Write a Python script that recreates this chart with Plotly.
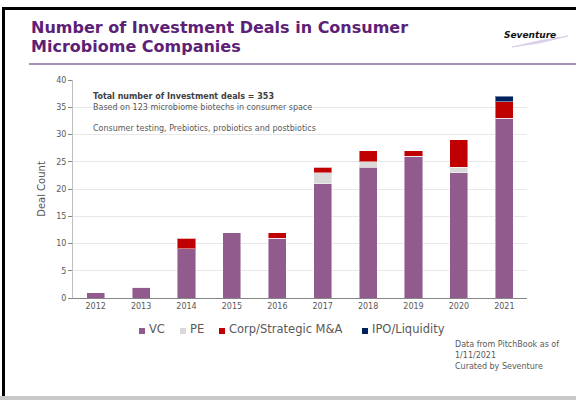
import plotly.graph_objects as go

years = ["2012", "2013", "2014", "2015", "2016", "2017", "2018", "2019", "2020", "2021"]
vc = [1, 2, 9, 12, 11, 21, 24, 26, 23, 33]
pe = [0, 0, 0, 0, 0, 2, 1, 0, 1, 0]
corp = [0, 0, 2, 0, 1, 1, 2, 1, 5, 3]
ipo = [0, 0, 0, 0, 0, 0, 0, 0, 0, 1]

series_names = ["VC", "PE", "Corp/Strategic M&A", "IPO/Liquidity"]
series_values = [vc, pe, corp, ipo]
series_colors = ["#915C8D", "#D9D9D9", "#C00000", "#002060"]

title_lines = ["Number of Investment Deals in Consumer", "Microbiome Companies"]
note_lines = ["Total number of Investment deals = 353",
              "Based on 123 microbiome biotechs in consumer space",
              "Consumer testing, Prebiotics, probiotics and postbiotics"]
source_lines = ["Data from PitchBook as of", "1/11/2021", "Curated by Seventure"]

FONT = "DejaVu Sans"
W, H = 576, 400


def px(x):
    return x / W


def py(y):
    return 1 - y / H


fig = go.Figure()
for name, vals, col in zip(series_names, series_values, series_colors):
    fig.add_trace(go.Bar(
        x=years, y=vals, name=name,
        marker=dict(color=col, line=dict(color="rgba(255,255,255,0.45)", width=1)),
    ))

fig.update_layout(
    width=W, height=H,
    margin=dict(l=0, r=0, t=0, b=0, autoexpand=False),
    paper_bgcolor="white", plot_bgcolor="white",
    barmode="stack", bargap=0.6,
    font=dict(family=FONT, color="#595959"),
    showlegend=False,
    xaxis=dict(domain=[px(73), px(527)], showline=True, linecolor="#868686", linewidth=1,
               ticks="", tickfont=dict(size=8, color="#595959"), showgrid=False,
               automargin=False),
    yaxis=dict(domain=[py(298), py(80)], range=[0, 40], dtick=5,
               showline=True, linecolor="#BFBFBF", linewidth=1,
               ticks="outside", ticklen=4, tickcolor="#868686",
               tickfont=dict(size=8, color="#595959"),
               showgrid=True, gridcolor="#E8E8E8", gridwidth=1, zeroline=False,
               automargin=False,
               title=dict(text="Deal Count", font=dict(size=10, color="#595959"), standoff=8)),
)

# Title (two lines)
for txt, yc in zip(title_lines, [27, 46]):
    fig.add_annotation(xref="paper", yref="paper", x=px(29), y=py(yc), xanchor="left", yanchor="middle",
                       text="<b>%s</b>" % txt, showarrow=False,
                       font=dict(family=FONT, size=16, color="#5C2176"))
# Logo text
fig.add_annotation(xref="paper", yref="paper", x=px(530), y=py(35), xanchor="center", yanchor="middle",
                   text="<b><i>Seventure</i></b>", showarrow=False,
                   font=dict(family=FONT, size=9, color="#111111"))
# Plot notes
for i, (txt, yc) in enumerate(zip(note_lines, [96, 107, 128])):
    fig.add_annotation(xref="paper", yref="paper", x=px(91), y=py(yc), xanchor="left", yanchor="middle",
                       text=("<b>%s</b>" % txt) if i == 0 else txt, showarrow=False,
                       font=dict(family=FONT, size=8, color="#404040" if i == 0 else "#595959"))
# Source note
for txt, yc in zip(source_lines, [344, 355, 366]):
    fig.add_annotation(xref="paper", yref="paper", x=px(453), y=py(yc), xanchor="left", yanchor="middle",
                       text=txt, showarrow=False,
                       font=dict(family=FONT, size=8, color="#595959"))

shapes = [
    dict(type="rect", xref="paper", yref="paper", x0=px(2), x1=1, y0=py(10), y1=py(7),
         fillcolor="black", line=dict(width=0)),
    dict(type="rect", xref="paper", yref="paper", x0=px(2), x1=px(5), y0=py(396), y1=py(7),
         fillcolor="black", line=dict(width=0)),
    dict(type="rect", xref="paper", yref="paper", x0=0, x1=1, y0=0, y1=py(396),
         fillcolor="#C8C8C8", line=dict(width=0)),
    dict(type="line", xref="paper", yref="paper", x0=px(29), x1=1, y0=py(64), y1=py(64),
         line=dict(color="#8E6A9E", width=1.5)),
    dict(type="path", xref="paper", yref="paper",
         path="M %f %f Q %f %f %f %f Q %f %f %f %f Z" % (
             px(512), py(47), px(540), py(40), px(568), py(36),
             px(540), py(44), px(512), py(47)),
         fillcolor="#DCD0E8", line=dict(color="#DCD0E8", width=1)),
]

# Manual legend (square marker + label)
legend_x = [139, 180, 219, 362]
for name, col, lx in zip(series_names, series_colors, legend_x):
    shapes.append(dict(type="rect", xref="paper", yref="paper",
                       x0=px(lx), x1=px(lx + 6), y0=py(334), y1=py(328),
                       fillcolor=col, line=dict(width=0)))
    fig.add_annotation(xref="paper", yref="paper", x=px(lx + 8), y=py(329), xanchor="left",
                       yanchor="middle", text=name, showarrow=False,
                       font=dict(family=FONT, size=11.5, color="#595959"))

fig.update_layout(shapes=shapes)

fig.write_html("out.html", config={"displayModeBar": False},
               post_script="document.body.style.margin='0';")
